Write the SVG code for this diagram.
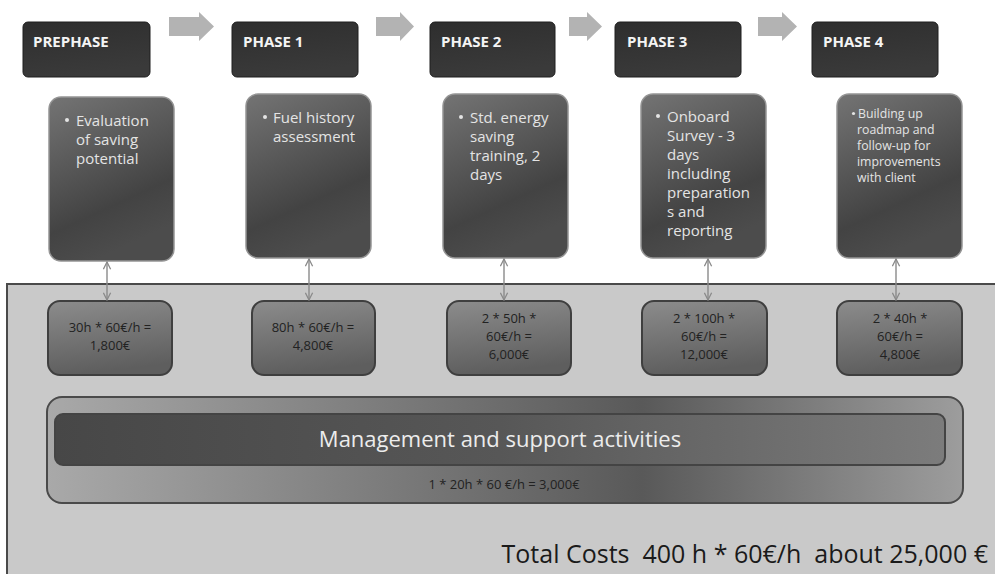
<svg xmlns="http://www.w3.org/2000/svg" width="995" height="574" viewBox="0 0 995 574">
  <defs>
    <linearGradient id="gHead" x1="0" y1="0" x2="0.3" y2="1">
      <stop offset="0" stop-color="#2e2e2e"/>
      <stop offset="1" stop-color="#3a3a3a"/>
    </linearGradient>
    <linearGradient id="gBody" x1="0" y1="0" x2="0.35" y2="1">
      <stop offset="0" stop-color="#747474"/>
      <stop offset="0.75" stop-color="#434343"/>
      <stop offset="1" stop-color="#4c4c4c"/>
    </linearGradient>
    <linearGradient id="gCost" x1="0" y1="0" x2="0.2" y2="1">
      <stop offset="0" stop-color="#8c8c8c"/>
      <stop offset="1" stop-color="#5e5e5e"/>
    </linearGradient>
    <linearGradient id="gMgmt" x1="0" y1="0" x2="1" y2="0">
      <stop offset="0" stop-color="#a9a9a9"/>
      <stop offset="0.65" stop-color="#595959"/>
      <stop offset="1" stop-color="#9d9d9d"/>
    </linearGradient>
    <linearGradient id="gBar" x1="0" y1="0" x2="1" y2="0">
      <stop offset="0" stop-color="#474747"/>
      <stop offset="0.5" stop-color="#575757"/>
      <stop offset="1" stop-color="#7c7c7c"/>
    </linearGradient>
    <marker id="tip" viewBox="0 0 10 10" refX="9" refY="5" markerWidth="9" markerHeight="9" markerUnits="userSpaceOnUse" orient="auto-start-reverse">
      <path d="M1,1 L9,5 L1,9" fill="none" stroke="#8a8a8a" stroke-width="1.4"/>
    </marker>
  </defs>
  <style>
    .head { fill: url(#gHead); stroke: #1e1e1e; stroke-width: 1; }
    .headTxt { font-family: "Open Sans", "Liberation Sans", sans-serif; font-weight: 700; font-size: 15px; fill: #f4f4f4; }
    .body { fill: url(#gBody); stroke: #959595; stroke-width: 1.5; }
    .bodyTxt { font-family: "Open Sans", "Liberation Sans", sans-serif; font-size: 15px; fill: #e4e4e4; }
    .smallTxt { font-family: "Open Sans", "Liberation Sans", sans-serif; font-size: 12.3px; fill: #e4e4e4; }
    .dot { fill: #e4e4e4; }
    .cost { fill: url(#gCost); stroke: #3f3f3f; stroke-width: 2; }
    .costTxt { font-family: "Open Sans", "Liberation Sans", sans-serif; font-size: 13px; fill: #222; text-anchor: middle; }
    .flow { fill: #b3b3b3; }
    .link { stroke: #8a8a8a; stroke-width: 1.4; fill: none; marker-start: url(#tip); marker-end: url(#tip); }
  </style>

  <rect width="995" height="574" fill="#ffffff"/>

  <!-- cost panel -->
  <rect id="panel" x="7" y="284" width="1000" height="300" fill="#c9c9c9" stroke="#4a4a4a" stroke-width="2"/>

  <!-- flow arrows between phases -->
  <g id="flow">
    <path class="flow" d="M169,17 H199 V12 L214,26.5 L199,41 V36 H169 Z"/>
    <path class="flow" d="M376,17 H400 V12 L414,26.5 L400,41 V36 H376 Z"/>
    <path class="flow" d="M569,17 H587 V12 L602,26.5 L587,41 V36 H569 Z"/>
    <path class="flow" d="M758,17 H782 V12 L797,26.5 L782,41 V36 H758 Z"/>
  </g>

  <!-- phase headers -->
  <g id="prephase-head"><rect class="head" x="23" y="22" width="127" height="55" rx="5"/><text class="headTxt" x="33" y="47">PREPHASE</text></g>
  <g id="phase1-head"><rect class="head" x="232" y="22" width="126" height="55" rx="5"/><text class="headTxt" x="243" y="47">PHASE 1</text></g>
  <g id="phase2-head"><rect class="head" x="430" y="22" width="125" height="55" rx="5"/><text class="headTxt" x="441" y="47">PHASE 2</text></g>
  <g id="phase3-head"><rect class="head" x="615" y="22" width="126" height="55" rx="5"/><text class="headTxt" x="627" y="47">PHASE 3</text></g>
  <g id="phase4-head"><rect class="head" x="812" y="22" width="126" height="55" rx="5"/><text class="headTxt" x="823" y="47">PHASE 4</text></g>

  <!-- phase descriptions -->
  <g id="prephase-body">
    <rect class="body" x="49" y="97" width="125" height="164" rx="12"/>
    <circle class="dot" cx="67" cy="120" r="2"/>
    <text class="bodyTxt"><tspan x="76" y="126">Evaluation</tspan><tspan x="76" y="145">of saving</tspan><tspan x="76" y="164">potential</tspan></text>
  </g>
  <g id="phase1-body">
    <rect class="body" x="246" y="94" width="125" height="164" rx="12"/>
    <circle class="dot" cx="265" cy="117" r="2"/>
    <text class="bodyTxt"><tspan x="273" y="123">Fuel history</tspan><tspan x="273" y="142">assessment</tspan></text>
  </g>
  <g id="phase2-body">
    <rect class="body" x="443" y="94" width="125" height="164" rx="12"/>
    <circle class="dot" cx="461" cy="117" r="2"/>
    <text class="bodyTxt"><tspan x="470" y="123">Std. energy</tspan><tspan x="470" y="142">saving</tspan><tspan x="470" y="161">training, 2</tspan><tspan x="470" y="180">days</tspan></text>
  </g>
  <g id="phase3-body">
    <rect class="body" x="641" y="94" width="125" height="164" rx="12"/>
    <circle class="dot" cx="658" cy="116" r="2"/>
    <text class="bodyTxt"><tspan x="667" y="122">Onboard</tspan><tspan x="667" y="141">Survey - 3</tspan><tspan x="667" y="160">days</tspan><tspan x="667" y="179">including</tspan><tspan x="667" y="198">preparation</tspan><tspan x="667" y="217">s and</tspan><tspan x="667" y="236">reporting</tspan></text>
  </g>
  <g id="phase4-body">
    <rect class="body" x="837" y="94" width="125" height="164" rx="12"/>
    <circle class="dot" cx="853.5" cy="113.5" r="1.6"/>
    <text class="smallTxt"><tspan x="858" y="118">Building up</tspan><tspan x="857" y="134">roadmap and</tspan><tspan x="857" y="150">follow-up for</tspan><tspan x="857" y="166">improvements</tspan><tspan x="857" y="182">with client</tspan></text>
  </g>

  <!-- cost boxes -->
  <g id="prephase-cost">
    <rect class="cost" x="48" y="301" width="124" height="74" rx="12"/>
    <text class="costTxt"><tspan x="110" y="332">30h * 60€/h =</tspan><tspan x="110" y="350">1,800€</tspan></text>
  </g>
  <g id="phase1-cost">
    <rect class="cost" x="252" y="301" width="123" height="74" rx="12"/>
    <text class="costTxt"><tspan x="313" y="332">80h * 60€/h =</tspan><tspan x="313" y="350">4,800€</tspan></text>
  </g>
  <g id="phase2-cost">
    <rect class="cost" x="447" y="301" width="124" height="74" rx="12"/>
    <text class="costTxt"><tspan x="509" y="323">2 * 50h *</tspan><tspan x="509" y="341">60€/h =</tspan><tspan x="509" y="359">6,000€</tspan></text>
  </g>
  <g id="phase3-cost">
    <rect class="cost" x="642" y="301" width="125" height="74" rx="12"/>
    <text class="costTxt"><tspan x="704" y="323">2 * 100h *</tspan><tspan x="704" y="341">60€/h =</tspan><tspan x="704" y="359">12,000€</tspan></text>
  </g>
  <g id="phase4-cost">
    <rect class="cost" x="837" y="301" width="125" height="74" rx="12"/>
    <text class="costTxt"><tspan x="900" y="323">2 * 40h *</tspan><tspan x="900" y="341">60€/h =</tspan><tspan x="900" y="359">4,800€</tspan></text>
  </g>

  <!-- links between descriptions and costs -->
  <g id="connectors">
    <line class="link" x1="107" y1="262" x2="107" y2="300"/>
    <line class="link" x1="309" y1="259" x2="309" y2="300"/>
    <line class="link" x1="504" y1="259" x2="504" y2="300"/>
    <line class="link" x1="708" y1="259" x2="708" y2="300"/>
    <line class="link" x1="896" y1="259" x2="896" y2="300"/>
  </g>

  <!-- management block -->
  <g id="management">
    <rect x="47" y="397" width="916" height="106" rx="15" fill="url(#gMgmt)" stroke="#4a4a4a" stroke-width="2"/>
    <rect x="55" y="414" width="890" height="51" rx="8" fill="url(#gBar)" stroke="#444" stroke-width="2"/>
    <text x="500" y="447" text-anchor="middle" font-family="Open Sans, Liberation Sans, sans-serif" font-size="22" fill="#ececec">Management and support activities</text>
    <text x="504" y="489" text-anchor="middle" font-family="Open Sans, Liberation Sans, sans-serif" font-size="13" fill="#222">1 * 20h * 60 €/h = 3,000€</text>
  </g>

  <!-- total -->
  <g id="total">
    <text x="988" y="563" text-anchor="end" xml:space="preserve" font-family="Open Sans, Liberation Sans, sans-serif" font-size="25" fill="#1a1a1a">Total Costs  400 h * 60€/h  about 25,000 €</text>
  </g>
</svg>
